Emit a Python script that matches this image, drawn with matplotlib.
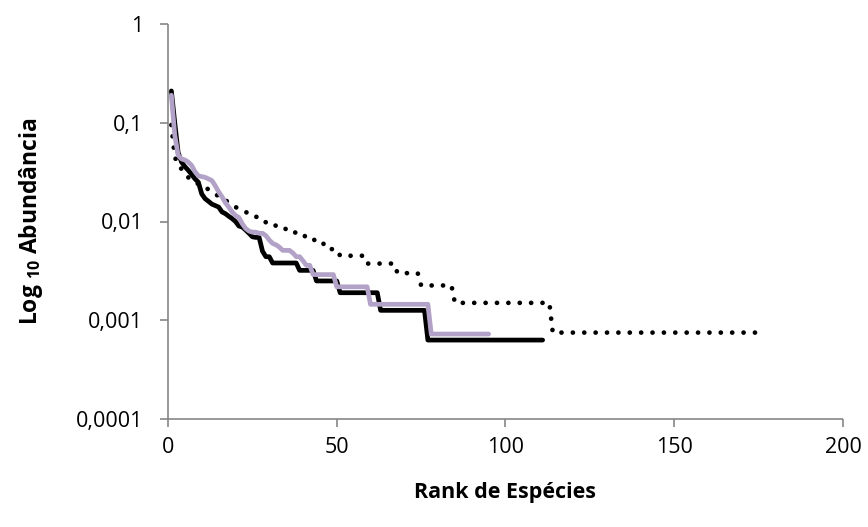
import numpy as np
import matplotlib
matplotlib.use("Agg")
from matplotlib import pyplot as plt

plt.rcParams['font.family'] = ['Open Sans', 'DejaVu Sans']
plt.rcParams['mathtext.fontset'] = 'custom'
plt.rcParams['mathtext.rm'] = 'Open Sans:bold'
plt.rcParams['mathtext.default'] = 'rm'

GREY = "#868686"
LILAC = "#b3a2c7"

# abundancia relativa por rank (linha preta continua, 111 especies)
black_solid = ([0.21, 0.10, 0.05, 0.040, 0.036, 0.033, 0.030, 0.027, 0.025, 0.019,
                0.017, 0.016, 0.015, 0.0145, 0.014, 0.0125, 0.012, 0.0113, 0.0107, 0.0100,
                0.0090, 0.0088, 0.0082, 0.0076, 0.0070, 0.0069, 0.0069, 0.0050, 0.0044, 0.0044]
               + [0.0038] * 8 + [0.0032] * 5 + [0.0025] * 7 + [0.0019] * 12
               + [0.00126] * 14 + [0.00063] * 35)

# linha lilas (95 especies)
lilac_solid = ([0.19, 0.075, 0.047, 0.043, 0.042, 0.040, 0.037, 0.032, 0.029, 0.0285,
                0.028, 0.027, 0.026, 0.023, 0.020, 0.0178, 0.0155, 0.014, 0.0125, 0.0115,
                0.011, 0.0095, 0.0085, 0.008, 0.0078, 0.0078, 0.0076, 0.0076, 0.0072, 0.0065,
                0.0060, 0.0058, 0.0055, 0.0051, 0.0051, 0.0051, 0.0048, 0.0044, 0.0044, 0.0040,
                0.0036, 0.0036]
               + [0.0029] * 7 + [0.00218] * 10 + [0.00145] * 18 + [0.000725] * 18)

# linha pontilhada (175 especies)
black_dotted = ([0.095, 0.045, 0.038, 0.034, 0.031, 0.028, 0.026, 0.025, 0.024, 0.023,
                 0.0225, 0.021, 0.020, 0.019, 0.018, 0.0175, 0.0165, 0.0155, 0.0148, 0.014,
                 0.0135, 0.013, 0.0125, 0.012, 0.0113, 0.0113, 0.0105, 0.0105, 0.0098, 0.0098,
                 0.0098, 0.009, 0.009, 0.009, 0.0083, 0.0083, 0.0083, 0.0075, 0.0075, 0.0075]
                + [0.0068] * 3 + [0.006] * 3 + [0.00525] * 4 + [0.0045] * 8 + [0.00375] * 9
                + [0.003] * 7 + [0.00225] * 10 + [0.0015] * 29 + [0.00075] * 62)

x_ticks = [0, 50, 100, 150, 200]
y_ticks = [0.0001, 0.001, 0.01, 0.1, 1]
y_labels = ["0,0001", "0,001", "0,01", "0,1", "1"]

fig = plt.figure(figsize=(8.68, 5.27), dpi=100)
ax = fig.add_axes([168 / 868, 108 / 527, 675 / 868, 395 / 527])

ax.plot(np.arange(1, len(black_dotted) + 1), black_dotted, color="black",
        lw=3.4, linestyle=(0, (0.01, 2.4)), dash_capstyle="round", zorder=2)
ax.plot(np.arange(1, len(black_solid) + 1), black_solid, color="black",
        lw=3.4, solid_joinstyle="round", solid_capstyle="round", zorder=3)
ax.plot(np.arange(1, len(lilac_solid) + 1), lilac_solid, color=LILAC,
        lw=3.4, solid_joinstyle="round", solid_capstyle="round", zorder=4)

ax.set_yscale("log")
ax.set_xlim(0, 200)
ax.set_ylim(0.0001, 1)
ax.set_xticks(x_ticks)
ax.set_xticklabels([str(t) for t in x_ticks])
ax.set_yticks(y_ticks)
ax.set_yticklabels(y_labels)
ax.yaxis.set_minor_locator(plt.NullLocator())

for side in ["top", "right"]:
    ax.spines[side].set_visible(False)
for side in ["left", "bottom"]:
    ax.spines[side].set_color(GREY)
    ax.spines[side].set_linewidth(1.2)
    ax.spines[side].set_capstyle("butt")

ax.tick_params(axis="both", colors=GREY, width=1.2, length=6, labelsize=15.5,
               labelcolor="black")
ax.tick_params(axis="y", pad=12)
ax.tick_params(axis="x", pad=7)

ax.set_xlabel("Rank de Espécies", fontsize=15.5, fontweight="bold", labelpad=17)
ax.set_ylabel("Log $_{10}$ Abundância", fontsize=16.5, fontweight="bold", labelpad=22)

fig.savefig("out.png", dpi=100)
